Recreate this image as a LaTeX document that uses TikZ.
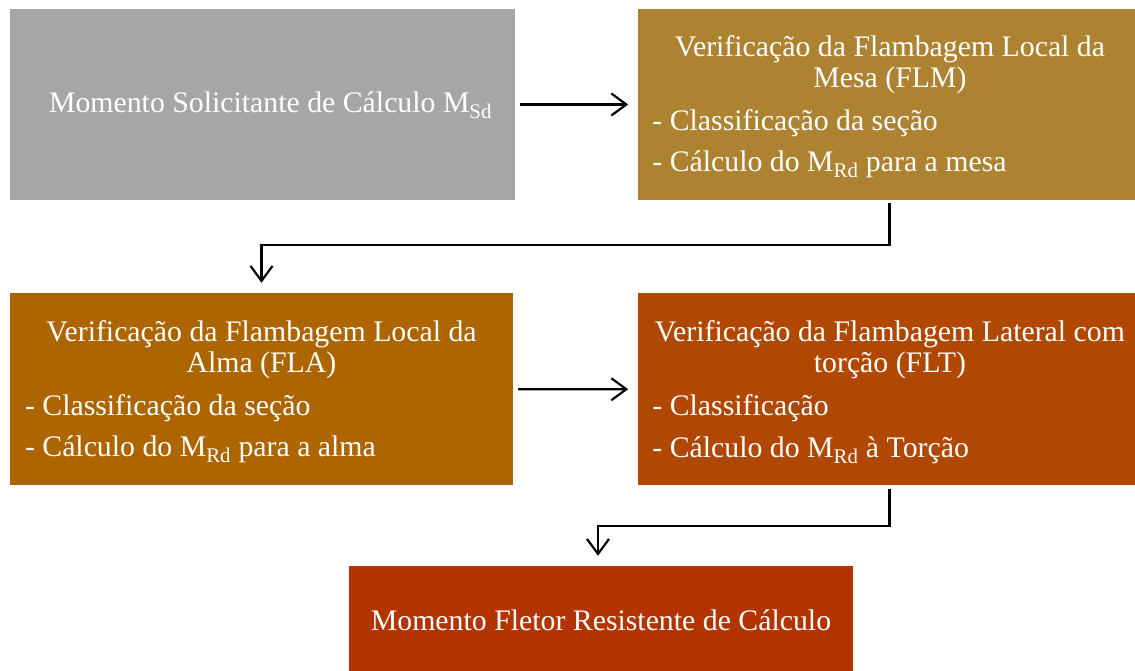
\documentclass[tikz,border=0pt]{standalone}
\usepackage{fontspec}
\setmainfont{Liberation Serif}
\usetikzlibrary{positioning,arrows.meta}

\definecolor{cinza}{RGB}{166,166,166}
\definecolor{ouro}{RGB}{173,131,50}
\definecolor{ocre}{RGB}{173,101,0}
\definecolor{ferrugem}{RGB}{176,72,2}
\definecolor{tijolo}{RGB}{180,52,0}

\begin{document}
\begin{tikzpicture}[
                    x=1pt, y=-1pt,
                    node distance=93pt and 123pt,
                    every node/.style={
                        inner sep=0pt,
                        text=white,
                        font=\fontsize{29.8}{31}\selectfont
                    },
                    caixa/.style={rectangle, minimum height=191pt},
                    seta/.style={-{Straight Barb[length=15pt,width=22pt]}, line width=2.2pt}
                ]

                    \useasboundingbox[fill=white] (0,0) rectangle (1135,671);

                    % Caixas
                    \node[caixa, fill=cinza, minimum width=505pt] (msd) at (262.5,104.5) {};
                    \node[caixa, fill=ouro, minimum width=497pt] (flm) [right=123pt of msd] {};
                    \node[caixa, fill=ocre, minimum width=503pt, minimum height=192pt] (fla) at (261.5,389) {};
                    \node[caixa, fill=ferrugem, minimum width=497pt, minimum height=192pt] (flt) [below=93pt of flm] {};
                    \node[caixa, fill=tijolo, minimum width=504pt, minimum height=105pt] (res) at (601,618.5) {};

                    % Textos
                    \node (msdtxt) at ([xshift=8pt,yshift=-1pt]msd.center) {Momento Solicitante de Cálculo M\textsubscript{Sd}};

                    \node[align=center] (flmtit) at ([xshift=3pt,yshift=-55.5pt]flm.north) {Verificação da Flambagem Local da\\Mesa (FLM)};
                    \node[anchor=west] (flma) at ([xshift=14pt,yshift=-114pt]flm.north west) {- Classificação da seção};
                    \node[anchor=west] (flmb) at ([xshift=14pt,yshift=-156pt]flm.north west) {- Cálculo do M\textsubscript{Rd} para a mesa};

                    \node[align=center] (flatit) at ([yshift=-56.5pt]fla.north) {Verificação da Flambagem Local da\\Alma (FLA)};
                    \node[anchor=west] (flaa) at ([xshift=15pt,yshift=-115pt]fla.north west) {- Classificação da seção};
                    \node[anchor=west] (flab) at ([xshift=15pt,yshift=-157pt]fla.north west) {- Cálculo do M\textsubscript{Rd} para a alma};

                    \node[align=center] (flttit) at ([xshift=3pt,yshift=-56.5pt]flt.north) {Verificação da Flambagem Lateral com\\torção (FLT)};
                    \node[anchor=west] (flta) at ([xshift=14pt,yshift=-115pt]flt.north west) {- Classificação};
                    \node[anchor=west] (fltb) at ([xshift=14pt,yshift=-157pt]flt.north west) {- Cálculo do M\textsubscript{Rd} à Torção};

                    \node (restxt) at ([yshift=-2pt]res.center) {Momento Fletor Resistente de Cálculo};

                    % Setas
                    \draw[seta, shorten <=5pt, shorten >=10pt] (msd) -- (flm);
                    \draw[seta, shorten >=10pt] ([xshift=2.5pt,yshift=-3pt]flm.south) -- ++(0,42) -| (fla.north);
                    \draw[seta, shorten <=5pt, shorten >=10pt] (fla) -- (flt);
                    \draw[seta, shorten >=10pt] ([xshift=2.5pt,yshift=-3pt]flt.south) -- ++(0,37) -| ([xshift=-3pt]res.north);
                \end{tikzpicture}
\end{document}
